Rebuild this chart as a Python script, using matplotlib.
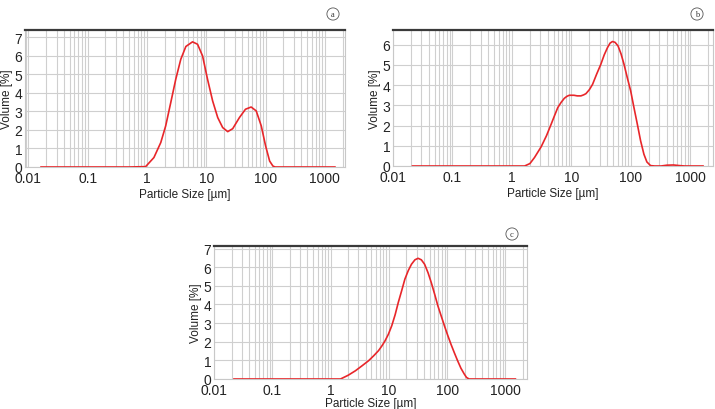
import numpy as np
import matplotlib
matplotlib.use("Agg")
import matplotlib.pyplot as plt
from matplotlib.ticker import FixedLocator, NullFormatter

plt.rcParams['font.family'] = ['Liberation Sans', 'DejaVu Sans']

a_x = [0.0164, 0.1, 0.5, 0.95, 1.31, 1.71, 2.07, 2.52, 3.06, 3.72, 4.53, 5.86, 7.13,
       8.66, 10.5, 12.8, 15.6, 18.9, 23, 27.9, 36.2, 45.8, 57.1, 69.5, 84.5, 100,
       117, 133, 145, 500, 1475]
a_y = [0, 0, 0, 0.02, 0.51, 1.32, 2.22, 3.48, 4.74, 5.82, 6.51, 6.76, 6.63,
       6.0, 4.74, 3.57, 2.67, 2.13, 1.91, 2.07, 2.67, 3.12, 3.24, 3.03, 2.22, 1.14,
       0.32, 0.05, 0, 0, 0]

b_x = [0.0213, 0.5, 1.63, 2.0, 2.39, 3.09, 3.8, 4.54, 5.2, 5.88, 6.7, 7.58, 8.4, 9.2,
       11, 12.5, 14.4, 16, 17.5, 20, 22.6, 26.5, 31.1, 35.5, 40.3, 44.5, 48.8, 54,
       60.6, 68, 76.4, 87, 98.9, 112, 128, 145, 165, 185, 213, 250, 320, 400, 520,
       650, 800, 1625]
b_y = [0, 0, 0, 0.12, 0.42, 0.95, 1.5, 2.06, 2.5, 2.89, 3.15, 3.35, 3.45, 3.5,
       3.5, 3.47, 3.47, 3.52, 3.58, 3.78, 4.04, 4.55, 5.03, 5.5, 5.86, 6.08, 6.16, 6.12,
       5.94, 5.55, 5.03, 4.35, 3.71, 2.9, 2.06, 1.25, 0.58, 0.2, 0.02, 0, 0, 0.04, 0.05,
       0.02, 0, 0]

c_x = [0.022, 0.5, 1.48, 2.0, 2.66, 3.5, 4.48, 5.5, 6.63, 7.6, 8.59, 9.8, 11.2, 12.8,
       14.5, 16.6, 18.8, 21.5, 24.4, 28, 31.7, 36, 41, 47, 53.3, 61, 69.2, 79, 89.6,
       102, 116, 133, 151, 172, 196, 215, 238, 1480]
c_y = [0, 0, 0, 0.2, 0.44, 0.72, 0.98, 1.25, 1.52, 1.78, 2.05, 2.4, 2.86, 3.45,
       4.11, 4.75, 5.36, 5.82, 6.16, 6.4, 6.48, 6.4, 6.16, 5.7, 5.18, 4.55, 3.93, 3.38, 2.86,
       2.35, 1.87, 1.4, 0.98, 0.58, 0.27, 0.08, 0, 0]

xticks = [0.01, 0.1, 1, 10, 100, 1000]
xticklabels = ['0.01', '0.1', '1', '10', '100', '1000']

W, H = 715, 410
fig = plt.figure(figsize=(W / 100, H / 100), dpi=100)


def px_axes(left, right, top, bottom):
    return fig.add_axes([left / W, 1 - bottom / H, (right - left) / W, (bottom - top) / H])


def panel(ax, x, y, xlim, ymax, nticks, xpad):
    ax.set_xscale('log')
    ax.plot(x, y, color='#e8262a', lw=1.2, zorder=3)
    ax.set_xlim(*xlim)
    ax.set_ylim(0, ymax)
    ax.set_xticks(xticks)
    ax.set_xticklabels(xticklabels)
    minors = [m * 10.0 ** d for d in range(-3, 4) for m in range(2, 10)]
    ax.xaxis.set_minor_locator(FixedLocator(minors))
    ax.xaxis.set_minor_formatter(NullFormatter())
    ax.set_yticks(range(nticks + 1))
    ax.grid(True, which='both', axis='x', color='#cfcfcf', lw=0.8)
    ax.grid(True, which='major', axis='y', color='#cfcfcf', lw=0.8)
    ax.set_axisbelow(True)
    ax.tick_params(which='both', length=0, labelsize=10, colors='#222222')
    ax.tick_params(axis='x', pad=3)
    ax.tick_params(axis='y', pad=2)
    for s in ['left', 'right', 'bottom']:
        ax.spines[s].set_color('#c8c8c8')
        ax.spines[s].set_linewidth(0.8)
    ax.spines['top'].set_color('#3a3a3a')
    ax.spines['top'].set_linewidth(1.6)
    ax.set_xlabel('Particle Size [µm]', fontsize=8.5, labelpad=xpad, color='#222222')
    ax.set_ylabel('Volume [%]', fontsize=8.5, labelpad=1, color='#222222')


ax_a = px_axes(25, 345, 31, 168)
panel(ax_a, a_x, a_y, (0.0088, 2180), 7.4, 7, 2)

ax_b = px_axes(393, 713, 31, 167)
panel(ax_b, b_x, b_y, (0.0102, 2390), 6.73, 6, 2)

ax_c = px_axes(214, 527, 247, 380)
panel(ax_c, c_x, c_y, (0.0100, 2340), 7.14, 7, 0)

for lab, px, py in [('a', 333, 15), ('b', 697, 15), ('c', 512, 235)]:
    fig.text(px / W, 1 - py / H, lab, ha='center', va='center', fontsize=6,
             family='Liberation Serif', color='#333333',
             bbox=dict(boxstyle='circle,pad=0.25', fc='white', ec='#555555', lw=0.6))

fig.savefig('out.png', dpi=100)
